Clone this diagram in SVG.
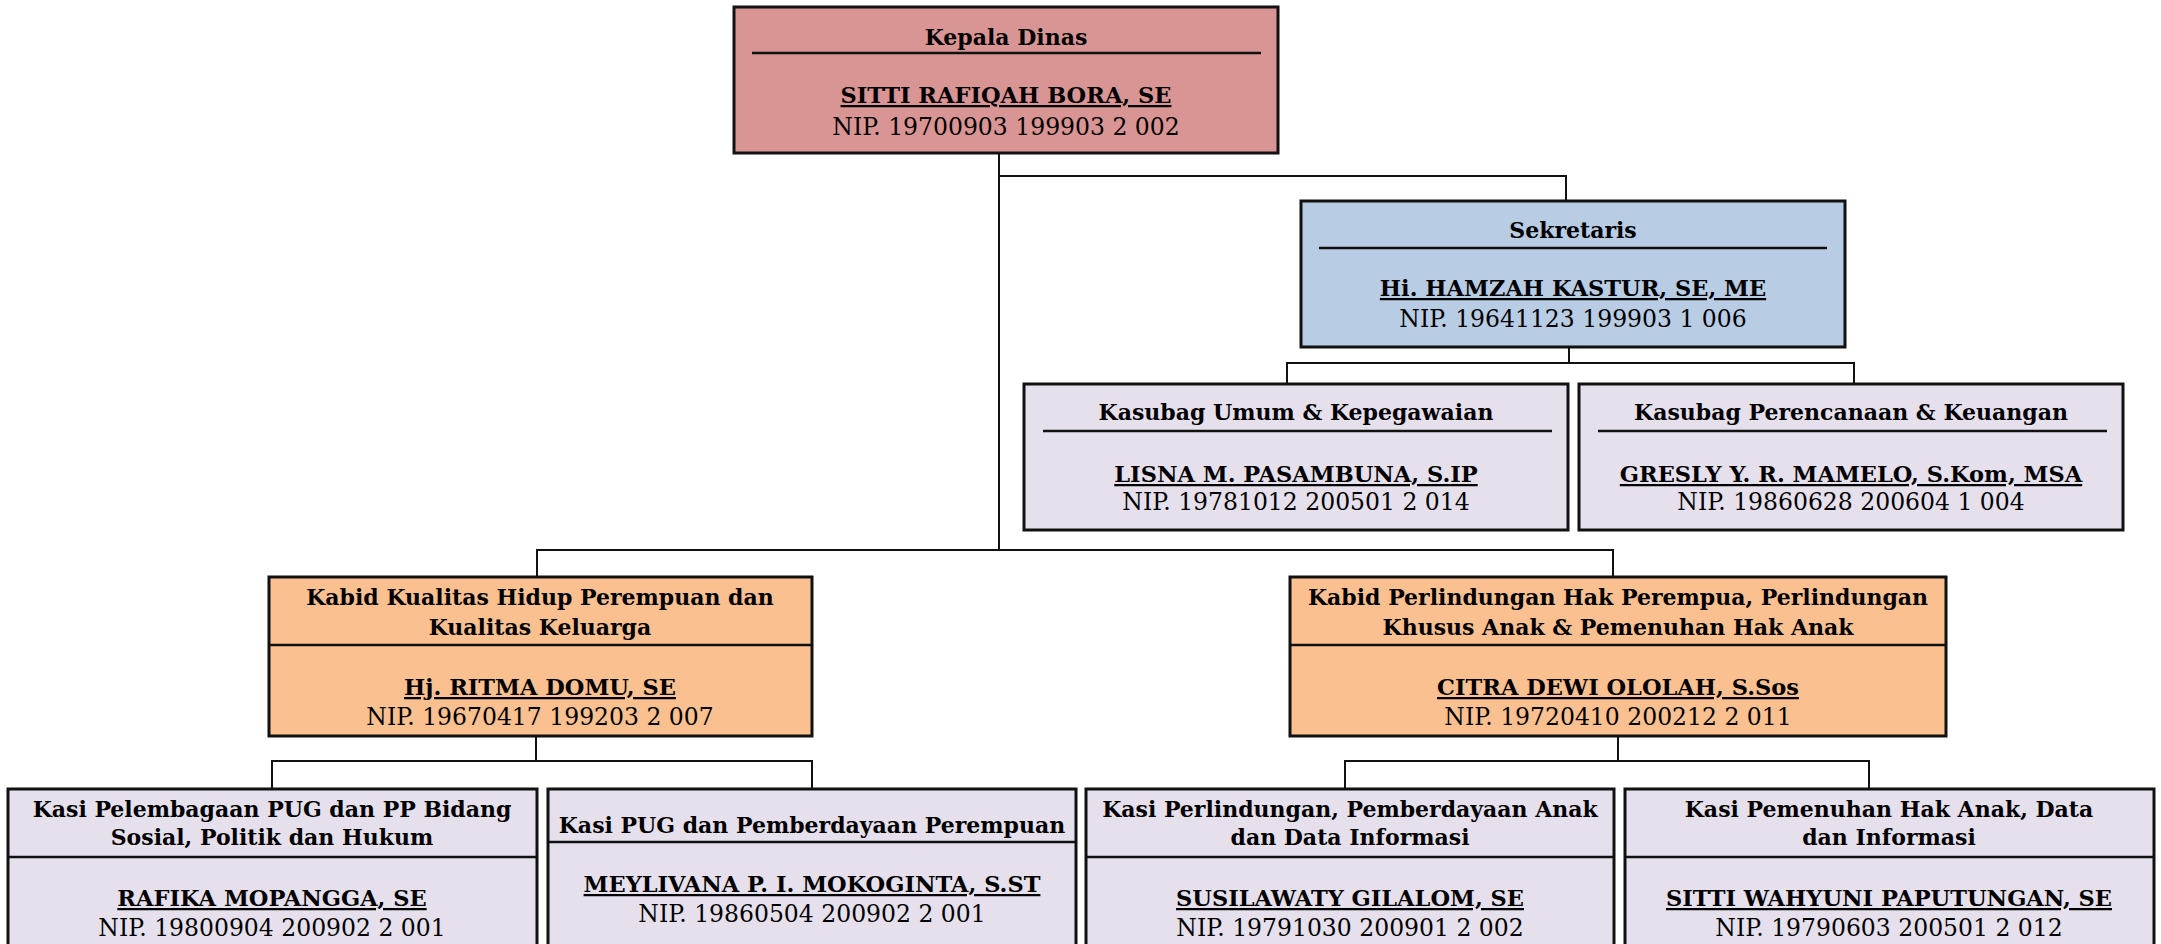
<svg xmlns="http://www.w3.org/2000/svg" width="2161" height="944" viewBox="0 0 2161 944">
<style>
.box{stroke:#111;stroke-width:3}
.sep{stroke:#111;stroke-width:2.5}
.red{fill:#D99594}.blue{fill:#B8CCE4}.lav{fill:#E5E0EC}.org{fill:#FAC090}
.conn{fill:none;stroke:#111;stroke-width:2}
text{font-family:"DejaVu Serif","Liberation Serif",serif;fill:#000;text-anchor:middle;font-size:22px}
.t{font-weight:bold}
.n{font-weight:bold;text-decoration:underline;font-size:22.5px}
.p{font-size:23.5px}
</style>
<rect width="2161" height="944" fill="#fff"/>
<g id="connectors">
<path class="conn" d="M999 153V550M999 176H1566V201"/>
<path class="conn" d="M1569 347V363M1287 384V363H1854V384"/>
<path class="conn" d="M537 577V550H1613V577"/>
<path class="conn" d="M536 737V761M272 789V761H812V789"/>
<path class="conn" d="M1618 737V761M1345 789V761H1869V789"/>
</g>
<g id="kepala">
<rect class="box red" x="734" y="7" width="544" height="146"/>
<line class="sep" x1="752" y1="53" x2="1261" y2="53"/>
<text class="t" x="1006" y="45">Kepala Dinas</text>
<text class="n" x="1006" y="103">SITTI RAFIQAH BORA, SE</text>
<text class="p" x="1006" y="135">NIP. 19700903 199903 2 002</text>
</g>
<g id="sekretaris">
<rect class="box blue" x="1301" y="201" width="544" height="146"/>
<line class="sep" x1="1319" y1="248" x2="1827" y2="248"/>
<text class="t" x="1573" y="238">Sekretaris</text>
<text class="n" x="1573" y="296">Hi. HAMZAH KASTUR, SE, ME</text>
<text class="p" x="1573" y="327">NIP. 19641123 199903 1 006</text>
</g>
<g id="kasubag-umum">
<rect class="box lav" x="1024" y="384" width="544" height="146"/>
<line class="sep" x1="1043" y1="431" x2="1552" y2="431"/>
<text class="t" x="1296" y="420">Kasubag Umum &amp; Kepegawaian</text>
<text class="n" x="1296" y="482">LISNA M. PASAMBUNA, S.IP</text>
<text class="p" x="1296" y="510">NIP. 19781012 200501 2 014</text>
</g>
<g id="kasubag-perencanaan">
<rect class="box lav" x="1579" y="384" width="544" height="146"/>
<line class="sep" x1="1598" y1="431" x2="2107" y2="431"/>
<text class="t" x="1851" y="420">Kasubag Perencanaan &amp; Keuangan</text>
<text class="n" x="1851" y="482">GRESLY Y. R. MAMELO, S.Kom, MSA</text>
<text class="p" x="1851" y="510">NIP. 19860628 200604 1 004</text>
</g>
<g id="kabid-kualitas">
<rect class="box org" x="269" y="577" width="543" height="159"/>
<line class="sep" x1="269" y1="645" x2="812" y2="645"/>
<text class="t" x="540" y="605">Kabid Kualitas Hidup Perempuan dan</text>
<text class="t" x="540" y="635">Kualitas Keluarga</text>
<text class="n" x="540" y="695">Hj. RITMA DOMU, SE</text>
<text class="p" x="540" y="725">NIP. 19670417 199203 2 007</text>
</g>
<g id="kabid-perlindungan">
<rect class="box org" x="1290" y="577" width="656" height="159"/>
<line class="sep" x1="1290" y1="645" x2="1946" y2="645"/>
<text class="t" x="1618" y="605">Kabid Perlindungan Hak Perempua, Perlindungan</text>
<text class="t" x="1618" y="635">Khusus Anak &amp; Pemenuhan Hak Anak</text>
<text class="n" x="1618" y="695">CITRA DEWI OLOLAH, S.Sos</text>
<text class="p" x="1618" y="725">NIP. 19720410 200212 2 011</text>
</g>
<g id="kasi-pelembagaan">
<rect class="box lav" x="8" y="789" width="529" height="170"/>
<line class="sep" x1="8" y1="857" x2="537" y2="857"/>
<text class="t" x="272" y="817">Kasi Pelembagaan PUG dan PP Bidang</text>
<text class="t" x="272" y="845">Sosial, Politik dan Hukum</text>
<text class="n" x="272" y="906">RAFIKA MOPANGGA, SE</text>
<text class="p" x="272" y="936">NIP. 19800904 200902 2 001</text>
</g>
<g id="kasi-pug">
<rect class="box lav" x="548" y="789" width="528" height="170"/>
<line class="sep" x1="548" y1="842" x2="1076" y2="842"/>
<text class="t" x="812" y="833">Kasi PUG dan Pemberdayaan Perempuan</text>
<text class="n" x="812" y="892">MEYLIVANA P. I. MOKOGINTA, S.ST</text>
<text class="p" x="812" y="922">NIP. 19860504 200902 2 001</text>
</g>
<g id="kasi-perlindungan">
<rect class="box lav" x="1086" y="789" width="528" height="170"/>
<line class="sep" x1="1086" y1="857" x2="1614" y2="857"/>
<text class="t" x="1350" y="817">Kasi Perlindungan, Pemberdayaan Anak</text>
<text class="t" x="1350" y="845">dan Data Informasi</text>
<text class="n" x="1350" y="906">SUSILAWATY GILALOM, SE</text>
<text class="p" x="1350" y="936">NIP. 19791030 200901 2 002</text>
</g>
<g id="kasi-pemenuhan">
<rect class="box lav" x="1625" y="789" width="529" height="170"/>
<line class="sep" x1="1625" y1="857" x2="2154" y2="857"/>
<text class="t" x="1889" y="817">Kasi Pemenuhan Hak Anak, Data</text>
<text class="t" x="1889" y="845">dan Informasi</text>
<text class="n" x="1889" y="906">SITTI WAHYUNI PAPUTUNGAN, SE</text>
<text class="p" x="1889" y="936">NIP. 19790603 200501 2 012</text>
</g>
</svg>
